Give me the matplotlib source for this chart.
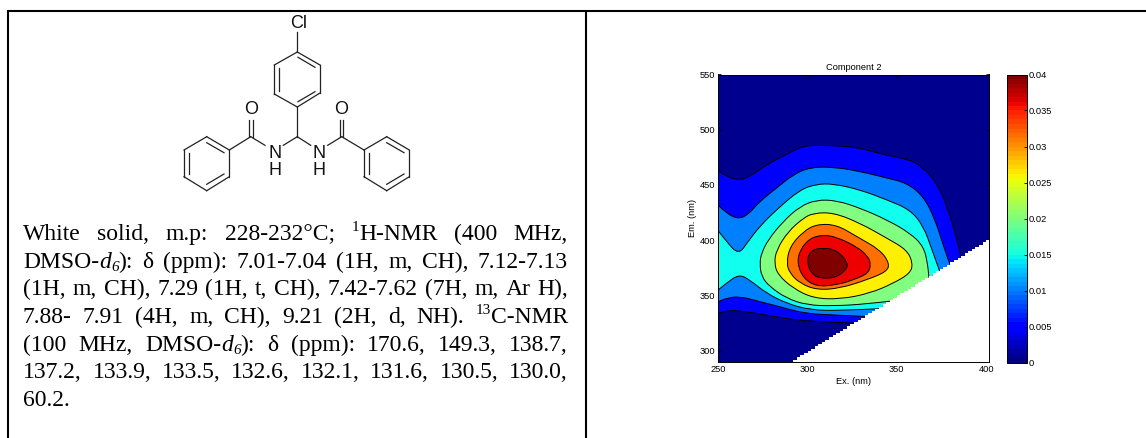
import matplotlib
matplotlib.use('Agg')
import matplotlib.pyplot as plt
from matplotlib.cm import ScalarMappable
from matplotlib.colors import Normalize
from matplotlib.patches import PathPatch
from matplotlib.path import Path

W, H = 1146, 438

# contour outlines, outermost first (ex, em in nm)
level_ex = [
    [327, 299.4, 278.8, 261, 254.5, 250, 250, 253.6, 261, 267.6, 277, 289.1, 297.6, 310.7, 327.5, 342.5, 357.5, 365, 372.5, 378.1, 382.8, 386],
    [333, 314.4, 297.6, 284.5, 273.2, 262, 254.5, 250, 250, 254.5, 261, 266.7, 273.2, 282.6, 291.9, 301.3, 314.4, 329.4, 344.4, 355.6, 365, 371.5, 376.2, 380],
    [340, 318.2, 301.3, 288.2, 277, 267.6, 261.6, 254.5, 250, 250, 254.5, 261.4, 266.7, 273.2, 282.6, 295.7, 305.1, 314.4, 329.4, 344.4, 357.5, 365, 369.7, 374],
    [347, 333.1, 314.4, 299.4, 288.2, 278.8, 274.2, 273.2, 274.2, 277.9, 286.3, 295.7, 305.1, 316.3, 329.4, 344.4, 357.5, 365, 367.2, 368],
    [281.3, 282.6, 289.1, 297.6, 303.2, 314.4, 329.4, 344.4, 355.6, 359, 357.5, 348.1, 335, 318.2, 303.2, 291.9, 283.5],
    [288.2, 290.1, 297.6, 305.1, 316.3, 327.5, 340.6, 345.9, 344.4, 333.1, 318.2, 305.1, 295.7, 290.1],
    [294.2, 295.7, 301.3, 308.8, 316.3, 327.5, 334.1, 335.4, 334.1, 325.7, 316.3, 305.1, 297.6],
    [299.8, 300.7, 305.1, 308.8, 312.5, 318.2, 321.9, 322.5, 316.3, 306.9, 302.2],
]
level_em = [
    [325, 326.3, 331.7, 336.6, 336, 333.9, 462.9, 458.4, 454.2, 457.2, 468.4, 478.4, 485.6, 485.9, 484.4, 477.4, 472.9, 465.4, 451.8, 430.6, 406.4, 385],
    [331, 332.3, 333.9, 339.9, 344.4, 349.3, 347.5, 344.4, 431.5, 424.5, 419.1, 423, 435.1, 447.2, 459.3, 466, 466.3, 462.3, 456.3, 451.8, 439.7, 418.5, 394.3, 377],
    [338, 336.3, 336.9, 342.9, 352, 364.1, 369.2, 361.1, 355, 408.5, 398.9, 386.8, 398.9, 412.5, 427.6, 445.7, 450.8, 451.1, 445.7, 436.6, 427.6, 412.5, 391.3, 372],
    [345, 342.3, 340.5, 341.4, 347.5, 358, 367.1, 379.2, 388.3, 400.4, 417, 430.6, 436.6, 436, 429.1, 418.5, 406.4, 394.3, 379.2, 366],
    [379.2, 391.3, 407.9, 420, 424.5, 425.1, 415.5, 401.9, 391.3, 379.2, 370.1, 361.1, 352, 346.6, 347.5, 356.5, 368.6],
    [379.2, 394.3, 407.9, 414.6, 414, 403.4, 391.3, 379.2, 371.6, 364.1, 356.5, 355, 361.1, 370.1],
    [379.2, 391.3, 401.9, 404.9, 402.8, 394.3, 385.2, 377.7, 370.1, 364.1, 359.6, 358, 365.6],
    [379.2, 388.3, 392.8, 392.2, 392.8, 388.3, 380.7, 374.7, 366.2, 365.3, 369.9],
]
closed = [False, False, False, False, True, True, True, True]
level_colors = ['#0000ff', '#0080ff', '#10ffef', '#80ff80', '#ffef00', '#ff7000', '#ee0000', '#800000']
base_color = '#00008f'

# masked corner, em < ex on the measurement grid
stair = [288, 290, 292, 294, 296, 298, 300, 302, 304, 306, 308, 310, 312, 314, 316, 318, 320,
         322, 324, 326, 328, 330, 332, 334, 336, 338, 340, 342, 344, 346, 348, 350, 352, 354,
         356, 358, 360, 362, 364, 366, 368, 370, 372, 374, 376, 378, 380, 382, 384, 386, 388,
         390, 392, 394, 396, 398, 400, 402]

ex_ticks = [250, 300, 350, 400]
em_ticks = [300, 350, 400, 450, 500, 550]
cb_ticks = [0, 0.005, 0.01, 0.015, 0.02, 0.025, 0.03, 0.035, 0.04]
cb_labels = ['0', '0.005', '0.01', '0.015', '0.02', '0.025', '0.03', '0.035', '0.04']

# molecule drawing, picture pixels
bonds = [
    ((297.3, 32), (297.3, 52)), ((297.3, 52), (320, 65)), ((320, 65), (320, 93)), ((320, 93), (297.3, 107)),
    ((297.3, 107), (274.3, 94)), ((274.3, 94), (274.3, 65)), ((274.3, 65), (297.3, 52)),
    ((298, 57.3), (315, 67.3)), ((279.3, 68.3), (279.3, 90.7)), ((298, 101.7), (315, 91.7)),
    ((297.3, 107), (297.3, 136.7)), ((297.3, 136.7), (283.3, 145.3)), ((297.3, 136.7), (310.7, 145.3)),
    ((250.7, 136.7), (265, 145.3)), ((249.3, 136.7), (249.3, 120)), ((252.7, 136.7), (252.7, 120)),
    ((250.7, 136.7), (229.3, 150)), ((229.3, 150), (229.3, 176.7)), ((229.3, 176.7), (206.7, 190.7)),
    ((206.7, 190.7), (184, 176.7)), ((184, 176.7), (184, 150)), ((184, 150), (206.7, 136.7)),
    ((206.7, 136.7), (229.3, 150)), ((206.7, 142.7), (224, 152.7)), ((189.3, 152.7), (189.3, 174)),
    ((206.7, 184.3), (224, 174)),
    ((341.7, 136.7), (327.7, 145.3)), ((340, 136.7), (340, 120)), ((343.3, 136.7), (343.3, 120)),
    ((341.7, 136.7), (364, 150)), ((364, 150), (386.7, 136.7)), ((386.7, 136.7), (409.3, 150)),
    ((409.3, 150), (409.3, 176.7)), ((409.3, 176.7), (386.7, 190.7)), ((386.7, 190.7), (364, 176.7)),
    ((364, 176.7), (364, 150)), ((386.7, 142.7), (404, 152.7)), ((369.3, 152.7), (369.3, 174)),
    ((386.7, 184.3), (404, 174)),
]
atoms = [('Cl', 298.5, 24), ('O', 251.5, 109), ('O', 341.5, 110), ('N', 275, 153.5), ('H', 275, 170.5),
         ('N', 319.3, 153.5), ('H', 319.3, 170.5)]

# description text, one list per line: words made of (text, style) runs
R, I, S, B = 'normal', 'italic', 'sup', 'sub'
text_lines = [
    [[('White', R)], [('solid,', R)], [('m.p:', R)], [('228-232°C;', R)], [('1', S), ('H-NMR', R)], [('(400', R)], [('MHz,', R)]],
    [[('DMSO-', R), ('d', I), ('6', B), ('):', R)], [('δ', R)], [('(ppm):', R)], [('7.01-7.04', R)], [('(1H,', R)], [('m,', R)], [('CH),', R)], [('7.12-7.13', R)]],
    [[('(1H,', R)], [('m,', R)], [('CH),', R)], [('7.29', R)], [('(1H,', R)], [('t,', R)], [('CH),', R)], [('7.42-7.62', R)], [('(7H,', R)], [('m,', R)], [('Ar', R)], [('H),', R)]],
    [[('7.88-', R)], [('7.91', R)], [('(4H,', R)], [('m,', R)], [('CH),', R)], [('9.21', R)], [('(2H,', R)], [('d,', R)], [('NH).', R)], [('13', S), ('C-NMR', R)]],
    [[('(100', R)], [('MHz,', R)], [('DMSO-', R), ('d', I), ('6', B), ('):', R)], [('δ', R)], [('(ppm):', R)], [('170.6,', R)], [('149.3,', R)], [('138.7,', R)]],
    [[('137.2,', R)], [('133.9,', R)], [('133.5,', R)], [('132.6,', R)], [('132.1,', R)], [('131.6,', R)], [('130.5,', R)], [('130.0,', R)]],
    [[('60.2.', R)]],
]
text_baselines = [240, 267.7, 295.3, 323, 351, 378.5, 406.5]
justified = [True, True, True, True, True, True, False]

plt.rcParams['font.family'] = ['Liberation Sans', 'DejaVu Sans']
fig = plt.figure(figsize=(W / 100, H / 100), dpi=100)


def px_axes(left, top, right, bottom):
    return fig.add_axes([left / W, 1 - bottom / H, (right - left) / W, (bottom - top) / H])


# page layer in pixel coordinates
page = fig.add_axes([0, 0, 1, 1])
page.set_xlim(0, W)
page.set_ylim(H, 0)
page.axis('off')
page.plot([7.7, W], [11, 11], color='k', lw=1.5, solid_capstyle='butt')
page.plot([7.7, 7.7], [10.3, H], color='k', lw=1.5, solid_capstyle='butt')
page.plot([585.7, 585.7], [11, H], color='k', lw=1.5, solid_capstyle='butt')

for a, b in bonds:
    page.plot([a[0], b[0]], [a[1], b[1]], color='#222222', lw=0.9)
for name, x, y in atoms:
    page.text(x, y, name, ha='center', va='center', fontsize=13, color='#111111')

renderer = fig.canvas.get_renderer()


def run_text(x, y, run, draw=True):
    txt, style = run
    size, dy, st = 17, 0, 'normal'
    if style == I:
        st = 'italic'
    elif style == S:
        size, dy = 11, -9
    elif style == B:
        size, dy, st = 11, 3, 'italic'
    t = page.text(x, y + dy, txt, fontsize=size, style=st, ha='left', va='baseline',
                  family=['Liberation Serif', 'DejaVu Serif'], color='k')
    w = t.get_window_extent(renderer).width
    if not draw:
        t.remove()
    return w


for words, base, just in zip(text_lines, text_baselines, justified):
    widths = [sum(run_text(0, base, r, draw=False) for r in w) for w in words]
    gap = (568 - 23 - sum(widths)) / (len(words) - 1) if just else 6
    x = 23
    for w, ww in zip(words, widths):
        cx = x
        for r in w:
            cx += run_text(cx, base, r)
        x += ww + gap


def smooth_path(ex, em, is_closed):
    # rounded outline between the read points, points on the left axis edge stay sharp
    pts = list(zip(ex, em))
    verts, codes = [pts[0]], [Path.MOVETO]
    if is_closed:
        pts = pts + pts[:2]
        verts = [((pts[0][0] + pts[1][0]) / 2, (pts[0][1] + pts[1][1]) / 2)]
    for i in range(1, len(pts) - 1):
        p, q = pts[i], pts[i + 1]
        if p[0] == 250:
            verts.append(p)
            codes.append(Path.LINETO)
        else:
            verts += [p, ((p[0] + q[0]) / 2, (p[1] + q[1]) / 2)]
            codes += [Path.CURVE3, Path.CURVE3]
    if not is_closed:
        verts.append(pts[-1])
        codes.append(Path.LINETO)
    return Path(verts, codes)


# contour panel
ax = px_axes(718.3, 74.5, 989.3, 362)
ax.set_facecolor(base_color)
for ex, em, c, is_closed in zip(level_ex, level_em, level_colors, closed):
    path = smooth_path(ex, em, is_closed)
    ax.add_patch(PathPatch(path, facecolor=c, edgecolor='none', lw=0, zorder=2))
    ax.add_patch(PathPatch(path, facecolor='none', edgecolor='k', lw=0.7, zorder=3))
ax.fill_between(stair, stair, 280, step='post', color='white', lw=0, zorder=4)
ax.set_xlim(250, 401.8)
ax.set_ylim(289.8, 550)
ax.set_xticks(ex_ticks)
ax.set_yticks(em_ticks)
ax.tick_params(direction='in', length=2.5, width=0.6, labelsize=6.7, top=True, right=True, pad=2)
for sp in ax.spines.values():
    sp.set_linewidth(0.7)
    sp.set_zorder(5)
ax.set_title('Component 2', fontsize=6.7, pad=3)
ax.set_xlabel('Ex. (nm)', fontsize=6.7, labelpad=2)
ax.set_ylabel('Em. (nm)', fontsize=6.7, labelpad=2)

# colour bar
cax = px_axes(1007.3, 74.5, 1026.7, 362.5)
sm = ScalarMappable(Normalize(0, 0.04), plt.get_cmap('jet', 64))
cb = fig.colorbar(sm, cax=cax)
cb.set_ticks(cb_ticks)
cb.set_ticklabels(cb_labels)
cax.tick_params(direction='in', length=2.5, width=0.6, labelsize=6.7, pad=1.5)
cb.outline.set_linewidth(0.7)

fig.savefig('out.png', dpi=100)
